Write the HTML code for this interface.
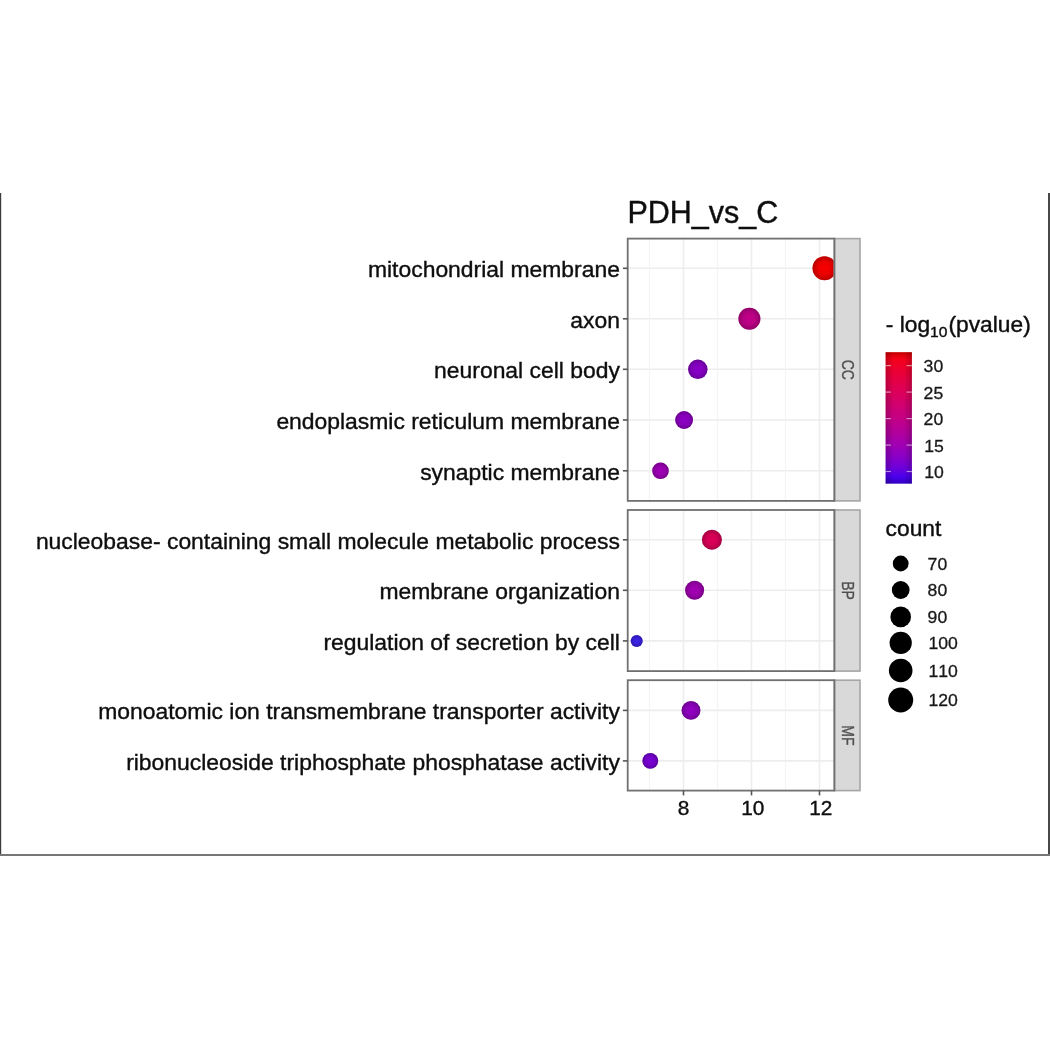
<!DOCTYPE html>
<html lang="en"><head><meta charset="utf-8"><title>PDH_vs_C GO enrichment</title>
<style>html,body{margin:0;padding:0;background:#fff}body{width:1050px;height:1050px;overflow:hidden}svg{display:block}</style></head><body>
<svg width="1050" height="1050" viewBox="0 0 1050 1050">
<rect width="1050" height="1050" fill="#fff"/>
<rect x="0" y="193" width="1.2" height="663" fill="#3c3c3c"/>
<rect x="1048" y="193" width="2" height="663" fill="#484848"/>
<rect x="0" y="854" width="1050" height="2" fill="#767676"/>
<defs>
<linearGradient id="cb" x1="0" y1="0" x2="0" y2="1"><stop offset="0.00" stop-color="#FF0000"/><stop offset="0.05" stop-color="#FB001A"/><stop offset="0.10" stop-color="#F6002A"/><stop offset="0.15" stop-color="#F20037"/><stop offset="0.20" stop-color="#ED0044"/><stop offset="0.25" stop-color="#E80050"/><stop offset="0.30" stop-color="#E3005B"/><stop offset="0.35" stop-color="#DD0066"/><stop offset="0.40" stop-color="#D70072"/><stop offset="0.45" stop-color="#D1007D"/><stop offset="0.50" stop-color="#CA0088"/><stop offset="0.55" stop-color="#C20094"/><stop offset="0.60" stop-color="#BA009F"/><stop offset="0.65" stop-color="#B000AB"/><stop offset="0.70" stop-color="#A600B7"/><stop offset="0.75" stop-color="#9A00C3"/><stop offset="0.80" stop-color="#8D00CE"/><stop offset="0.85" stop-color="#7C00DA"/><stop offset="0.90" stop-color="#6800E7"/><stop offset="0.95" stop-color="#4B00F3"/><stop offset="1.00" stop-color="#3F00F6"/></linearGradient>
<clipPath id="cp0"><rect x="627.7" y="238.6" width="206.7" height="262.3"/></clipPath>
<clipPath id="cp1"><rect x="627.7" y="510.0" width="206.7" height="161.1"/></clipPath>
<clipPath id="cp2"><rect x="627.7" y="680.2" width="206.7" height="110.4"/></clipPath>
<linearGradient id="cbh" x1="0" y1="0" x2="1" y2="0"><stop offset="0" stop-color="#000" stop-opacity="0.22"/><stop offset="0.3" stop-color="#000" stop-opacity="0.03"/><stop offset="0.7" stop-color="#000" stop-opacity="0.03"/><stop offset="1" stop-color="#000" stop-opacity="0.22"/></linearGradient>
<linearGradient id="cbv" x1="0" y1="0" x2="0" y2="1"><stop offset="0" stop-color="#000" stop-opacity="0.2"/><stop offset="0.05" stop-color="#000" stop-opacity="0"/><stop offset="0.95" stop-color="#000" stop-opacity="0"/><stop offset="1" stop-color="#000" stop-opacity="0.2"/></linearGradient>
<radialGradient id="sh"><stop offset="0" stop-color="#000" stop-opacity="0.02"/><stop offset="0.55" stop-color="#000" stop-opacity="0.08"/><stop offset="1" stop-color="#000" stop-opacity="0.28"/></radialGradient>
<filter id="soft" x="0" y="0" width="1050" height="1050" filterUnits="userSpaceOnUse"><feGaussianBlur stdDeviation="0.55"/></filter>
</defs>
<g filter="url(#soft)">
<text x="627.4" y="222.6" font-family="Liberation Sans, Arial, Helvetica, sans-serif" font-size="30.5" fill="#111" stroke="#111" stroke-width="0.4">PDH_vs_C</text>
<g>
<rect x="627.7" y="238.6" width="206.7" height="262.3" fill="#fff"/>
<line x1="649.5" x2="649.5" y1="238.6" y2="500.9" stroke="#f4f4f4" stroke-width="1.2"/>
<line x1="717.5" x2="717.5" y1="238.6" y2="500.9" stroke="#f4f4f4" stroke-width="1.2"/>
<line x1="785.5" x2="785.5" y1="238.6" y2="500.9" stroke="#f4f4f4" stroke-width="1.2"/>
<line x1="683.5" x2="683.5" y1="238.6" y2="500.9" stroke="#ededed" stroke-width="1.6"/>
<line x1="751.5" x2="751.5" y1="238.6" y2="500.9" stroke="#ededed" stroke-width="1.6"/>
<line x1="819.5" x2="819.5" y1="238.6" y2="500.9" stroke="#ededed" stroke-width="1.6"/>
<line x1="627.7" x2="834.4" y1="268.3" y2="268.3" stroke="#ededed" stroke-width="1.6"/>
<line x1="627.7" x2="834.4" y1="318.8" y2="318.8" stroke="#ededed" stroke-width="1.6"/>
<line x1="627.7" x2="834.4" y1="369.3" y2="369.3" stroke="#ededed" stroke-width="1.6"/>
<line x1="627.7" x2="834.4" y1="420.0" y2="420.0" stroke="#ededed" stroke-width="1.6"/>
<line x1="627.7" x2="834.4" y1="470.8" y2="470.8" stroke="#ededed" stroke-width="1.6"/>
<g clip-path="url(#cp0)">
<circle cx="824.5" cy="268.3" r="12.0" fill="#FF0000"/><circle cx="824.5" cy="268.3" r="12.0" fill="url(#sh)"/>
<circle cx="749.4" cy="318.8" r="11.0" fill="#C7008D"/><circle cx="749.4" cy="318.8" r="11.0" fill="url(#sh)"/>
<circle cx="697.8" cy="369.3" r="9.7" fill="#8D00CE"/><circle cx="697.8" cy="369.3" r="9.7" fill="url(#sh)"/>
<circle cx="684.1" cy="420.0" r="8.9" fill="#9200CA"/><circle cx="684.1" cy="420.0" r="8.9" fill="url(#sh)"/>
<circle cx="660.5" cy="470.8" r="8.3" fill="#A200BB"/><circle cx="660.5" cy="470.8" r="8.3" fill="url(#sh)"/>
</g>
<rect x="834.4" y="238.6" width="25.6" height="262.3" fill="#d9d9d9" stroke="#a6a6a6" stroke-width="1.6"/>
<rect x="627.7" y="238.6" width="206.7" height="262.3" fill="none" stroke="#707070" stroke-width="1.8"/>
<text transform="translate(841.6,369.8) rotate(90) scale(1,1.17)" text-anchor="middle" font-family="Liberation Sans, Arial, Helvetica, sans-serif" font-size="14" fill="#505050" stroke="#505050" stroke-width="0.3">CC</text>
</g>
<g>
<rect x="627.7" y="510.0" width="206.7" height="161.1" fill="#fff"/>
<line x1="649.5" x2="649.5" y1="510.0" y2="671.1" stroke="#f4f4f4" stroke-width="1.2"/>
<line x1="717.5" x2="717.5" y1="510.0" y2="671.1" stroke="#f4f4f4" stroke-width="1.2"/>
<line x1="785.5" x2="785.5" y1="510.0" y2="671.1" stroke="#f4f4f4" stroke-width="1.2"/>
<line x1="683.5" x2="683.5" y1="510.0" y2="671.1" stroke="#ededed" stroke-width="1.6"/>
<line x1="751.5" x2="751.5" y1="510.0" y2="671.1" stroke="#ededed" stroke-width="1.6"/>
<line x1="819.5" x2="819.5" y1="510.0" y2="671.1" stroke="#ededed" stroke-width="1.6"/>
<line x1="627.7" x2="834.4" y1="539.8" y2="539.8" stroke="#ededed" stroke-width="1.6"/>
<line x1="627.7" x2="834.4" y1="590.3" y2="590.3" stroke="#ededed" stroke-width="1.6"/>
<line x1="627.7" x2="834.4" y1="640.9" y2="640.9" stroke="#ededed" stroke-width="1.6"/>
<g clip-path="url(#cp1)">
<circle cx="711.9" cy="539.8" r="10.0" fill="#E3005B"/><circle cx="711.9" cy="539.8" r="10.0" fill="url(#sh)"/>
<circle cx="694.6" cy="590.3" r="9.5" fill="#A600B7"/><circle cx="694.6" cy="590.3" r="9.5" fill="url(#sh)"/>
<circle cx="636.7" cy="640.9" r="6.0" fill="#3B22EA"/><circle cx="636.7" cy="640.9" r="6.0" fill="url(#sh)"/>
</g>
<rect x="834.4" y="510.0" width="25.6" height="161.1" fill="#d9d9d9" stroke="#a6a6a6" stroke-width="1.6"/>
<rect x="627.7" y="510.0" width="206.7" height="161.1" fill="none" stroke="#707070" stroke-width="1.8"/>
<text transform="translate(841.6,590.5) rotate(90) scale(1,1.17)" text-anchor="middle" font-family="Liberation Sans, Arial, Helvetica, sans-serif" font-size="14" fill="#505050" stroke="#505050" stroke-width="0.3">BP</text>
</g>
<g>
<rect x="627.7" y="680.2" width="206.7" height="110.4" fill="#fff"/>
<line x1="649.5" x2="649.5" y1="680.2" y2="790.6" stroke="#f4f4f4" stroke-width="1.2"/>
<line x1="717.5" x2="717.5" y1="680.2" y2="790.6" stroke="#f4f4f4" stroke-width="1.2"/>
<line x1="785.5" x2="785.5" y1="680.2" y2="790.6" stroke="#f4f4f4" stroke-width="1.2"/>
<line x1="683.5" x2="683.5" y1="680.2" y2="790.6" stroke="#ededed" stroke-width="1.6"/>
<line x1="751.5" x2="751.5" y1="680.2" y2="790.6" stroke="#ededed" stroke-width="1.6"/>
<line x1="819.5" x2="819.5" y1="680.2" y2="790.6" stroke="#ededed" stroke-width="1.6"/>
<line x1="627.7" x2="834.4" y1="710.4" y2="710.4" stroke="#ededed" stroke-width="1.6"/>
<line x1="627.7" x2="834.4" y1="760.9" y2="760.9" stroke="#ededed" stroke-width="1.6"/>
<g clip-path="url(#cp2)">
<circle cx="691.0" cy="710.4" r="9.4" fill="#9500C7"/><circle cx="691.0" cy="710.4" r="9.4" fill="url(#sh)"/>
<circle cx="650.3" cy="760.9" r="7.9" fill="#7C00DA"/><circle cx="650.3" cy="760.9" r="7.9" fill="url(#sh)"/>
</g>
<rect x="834.4" y="680.2" width="25.6" height="110.4" fill="#d9d9d9" stroke="#a6a6a6" stroke-width="1.6"/>
<rect x="627.7" y="680.2" width="206.7" height="110.4" fill="none" stroke="#707070" stroke-width="1.8"/>
<text transform="translate(841.6,735.4) rotate(90) scale(1,1.17)" text-anchor="middle" font-family="Liberation Sans, Arial, Helvetica, sans-serif" font-size="14" fill="#505050" stroke="#505050" stroke-width="0.3">MF</text>
</g>
<line x1="622.9" x2="627.7" y1="268.3" y2="268.3" stroke="#555" stroke-width="1.6"/>
<text x="619.9" y="277.1" text-anchor="end" font-family="Liberation Sans, Arial, Helvetica, sans-serif" font-size="22.9" fill="#111" stroke="#111" stroke-width="0.4">mitochondrial membrane</text>
<line x1="622.9" x2="627.7" y1="318.8" y2="318.8" stroke="#555" stroke-width="1.6"/>
<text x="619.9" y="327.6" text-anchor="end" font-family="Liberation Sans, Arial, Helvetica, sans-serif" font-size="22.9" fill="#111" stroke="#111" stroke-width="0.4">axon</text>
<line x1="622.9" x2="627.7" y1="369.3" y2="369.3" stroke="#555" stroke-width="1.6"/>
<text x="619.9" y="378.1" text-anchor="end" font-family="Liberation Sans, Arial, Helvetica, sans-serif" font-size="22.9" fill="#111" stroke="#111" stroke-width="0.4">neuronal cell body</text>
<line x1="622.9" x2="627.7" y1="420.0" y2="420.0" stroke="#555" stroke-width="1.6"/>
<text x="619.9" y="428.8" text-anchor="end" font-family="Liberation Sans, Arial, Helvetica, sans-serif" font-size="22.9" fill="#111" stroke="#111" stroke-width="0.4">endoplasmic reticulum membrane</text>
<line x1="622.9" x2="627.7" y1="470.8" y2="470.8" stroke="#555" stroke-width="1.6"/>
<text x="619.9" y="479.6" text-anchor="end" font-family="Liberation Sans, Arial, Helvetica, sans-serif" font-size="22.9" fill="#111" stroke="#111" stroke-width="0.4">synaptic membrane</text>
<line x1="622.9" x2="627.7" y1="539.8" y2="539.8" stroke="#555" stroke-width="1.6"/>
<text x="619.9" y="548.6" text-anchor="end" font-family="Liberation Sans, Arial, Helvetica, sans-serif" font-size="22.9" fill="#111" stroke="#111" stroke-width="0.4">nucleobase- containing small molecule metabolic process</text>
<line x1="622.9" x2="627.7" y1="590.3" y2="590.3" stroke="#555" stroke-width="1.6"/>
<text x="619.9" y="599.1" text-anchor="end" font-family="Liberation Sans, Arial, Helvetica, sans-serif" font-size="22.9" fill="#111" stroke="#111" stroke-width="0.4">membrane organization</text>
<line x1="622.9" x2="627.7" y1="640.9" y2="640.9" stroke="#555" stroke-width="1.6"/>
<text x="619.9" y="649.7" text-anchor="end" font-family="Liberation Sans, Arial, Helvetica, sans-serif" font-size="22.9" fill="#111" stroke="#111" stroke-width="0.4">regulation of secretion by cell</text>
<line x1="622.9" x2="627.7" y1="710.4" y2="710.4" stroke="#555" stroke-width="1.6"/>
<text x="619.9" y="719.2" text-anchor="end" font-family="Liberation Sans, Arial, Helvetica, sans-serif" font-size="22.9" fill="#111" stroke="#111" stroke-width="0.4">monoatomic ion transmembrane transporter activity</text>
<line x1="622.9" x2="627.7" y1="760.9" y2="760.9" stroke="#555" stroke-width="1.6"/>
<text x="619.9" y="769.7" text-anchor="end" font-family="Liberation Sans, Arial, Helvetica, sans-serif" font-size="22.9" fill="#111" stroke="#111" stroke-width="0.4">ribonucleoside triphosphate phosphatase activity</text>
<line x1="683.5" x2="683.5" y1="790.6" y2="795.4" stroke="#555" stroke-width="1.6"/>
<text x="683.5" y="815.2" text-anchor="middle" font-family="Liberation Sans, Arial, Helvetica, sans-serif" font-size="20.8" fill="#111" stroke="#111" stroke-width="0.4">8</text>
<line x1="751.5" x2="751.5" y1="790.6" y2="795.4" stroke="#555" stroke-width="1.6"/>
<text x="752.8" y="815.2" text-anchor="middle" font-family="Liberation Sans, Arial, Helvetica, sans-serif" font-size="20.8" fill="#111" stroke="#111" stroke-width="0.4">10</text>
<line x1="819.5" x2="819.5" y1="790.6" y2="795.4" stroke="#555" stroke-width="1.6"/>
<text x="820.8" y="815.2" text-anchor="middle" font-family="Liberation Sans, Arial, Helvetica, sans-serif" font-size="20.8" fill="#111" stroke="#111" stroke-width="0.4">12</text>
<text transform="translate(885.8,332.2) scale(1.07,1)" font-family="Liberation Sans, Arial, Helvetica, sans-serif" font-size="21.3" fill="#111" stroke="#111" stroke-width="0.4">- log<tspan font-size="14.6" dy="4.5">10</tspan><tspan dy="-4.5" dx="0.9">(pvalue)</tspan></text>
<rect x="885.6" y="352.2" width="26.3" height="131.4" fill="url(#cb)"/>
<rect x="885.6" y="352.2" width="26.3" height="131.4" fill="url(#cbh)"/>
<rect x="885.6" y="352.2" width="26.3" height="131.4" fill="url(#cbv)"/>
<line x1="885.6" x2="890.9" y1="365.6" y2="365.6" stroke="#fff" stroke-opacity="0.55" stroke-width="1.2"/>
<line x1="906.6" x2="911.9" y1="365.6" y2="365.6" stroke="#fff" stroke-opacity="0.55" stroke-width="1.2"/>
<text transform="translate(923.6,372.0) scale(1.055,1)" font-family="Liberation Sans, Arial, Helvetica, sans-serif" font-size="16.7" style="font-kerning:none" fill="#1a1a1a" stroke="#1a1a1a" stroke-width="0.3">30</text>
<line x1="885.6" x2="890.9" y1="392.1" y2="392.1" stroke="#fff" stroke-opacity="0.55" stroke-width="1.2"/>
<line x1="906.6" x2="911.9" y1="392.1" y2="392.1" stroke="#fff" stroke-opacity="0.55" stroke-width="1.2"/>
<text transform="translate(923.6,398.5) scale(1.055,1)" font-family="Liberation Sans, Arial, Helvetica, sans-serif" font-size="16.7" style="font-kerning:none" fill="#1a1a1a" stroke="#1a1a1a" stroke-width="0.3">25</text>
<line x1="885.6" x2="890.9" y1="418.6" y2="418.6" stroke="#fff" stroke-opacity="0.55" stroke-width="1.2"/>
<line x1="906.6" x2="911.9" y1="418.6" y2="418.6" stroke="#fff" stroke-opacity="0.55" stroke-width="1.2"/>
<text transform="translate(923.6,425.0) scale(1.055,1)" font-family="Liberation Sans, Arial, Helvetica, sans-serif" font-size="16.7" style="font-kerning:none" fill="#1a1a1a" stroke="#1a1a1a" stroke-width="0.3">20</text>
<line x1="885.6" x2="890.9" y1="445.1" y2="445.1" stroke="#fff" stroke-opacity="0.55" stroke-width="1.2"/>
<line x1="906.6" x2="911.9" y1="445.1" y2="445.1" stroke="#fff" stroke-opacity="0.55" stroke-width="1.2"/>
<text transform="translate(924.2,451.5) scale(1.055,1)" font-family="Liberation Sans, Arial, Helvetica, sans-serif" font-size="16.7" style="font-kerning:none" fill="#1a1a1a" stroke="#1a1a1a" stroke-width="0.3">15</text>
<line x1="885.6" x2="890.9" y1="471.5" y2="471.5" stroke="#fff" stroke-opacity="0.55" stroke-width="1.2"/>
<line x1="906.6" x2="911.9" y1="471.5" y2="471.5" stroke="#fff" stroke-opacity="0.55" stroke-width="1.2"/>
<text transform="translate(924.2,477.9) scale(1.055,1)" font-family="Liberation Sans, Arial, Helvetica, sans-serif" font-size="16.7" style="font-kerning:none" fill="#1a1a1a" stroke="#1a1a1a" stroke-width="0.3">10</text>
<text transform="translate(885.6,536.1) scale(1.07,1)" font-family="Liberation Sans, Arial, Helvetica, sans-serif" font-size="21.3" fill="#111" stroke="#111" stroke-width="0.4">count</text>
<circle cx="900.7" cy="563.5" r="7.9" fill="#000"/>
<text transform="translate(927.6,569.7) scale(1.055,1)" font-family="Liberation Sans, Arial, Helvetica, sans-serif" font-size="16.7" style="font-kerning:none" fill="#1a1a1a" stroke="#1a1a1a" stroke-width="0.3">70</text>
<circle cx="900.7" cy="590.0" r="8.9" fill="#000"/>
<text transform="translate(927.6,596.2) scale(1.055,1)" font-family="Liberation Sans, Arial, Helvetica, sans-serif" font-size="16.7" style="font-kerning:none" fill="#1a1a1a" stroke="#1a1a1a" stroke-width="0.3">80</text>
<circle cx="900.7" cy="616.9" r="10.3" fill="#000"/>
<text transform="translate(927.6,623.1) scale(1.055,1)" font-family="Liberation Sans, Arial, Helvetica, sans-serif" font-size="16.7" style="font-kerning:none" fill="#1a1a1a" stroke="#1a1a1a" stroke-width="0.3">90</text>
<circle cx="900.7" cy="642.9" r="11.1" fill="#000"/>
<text transform="translate(928.4,649.1) scale(1.055,1)" font-family="Liberation Sans, Arial, Helvetica, sans-serif" font-size="16.7" style="font-kerning:none" fill="#1a1a1a" stroke="#1a1a1a" stroke-width="0.3">100</text>
<circle cx="900.7" cy="670.5" r="11.8" fill="#000"/>
<text transform="translate(928.4,676.7) scale(1.055,1)" font-family="Liberation Sans, Arial, Helvetica, sans-serif" font-size="16.7" style="font-kerning:none" fill="#1a1a1a" stroke="#1a1a1a" stroke-width="0.3">110</text>
<circle cx="900.7" cy="700.0" r="12.5" fill="#000"/>
<text transform="translate(928.4,706.2) scale(1.055,1)" font-family="Liberation Sans, Arial, Helvetica, sans-serif" font-size="16.7" style="font-kerning:none" fill="#1a1a1a" stroke="#1a1a1a" stroke-width="0.3">120</text>
</g></svg></body></html>
